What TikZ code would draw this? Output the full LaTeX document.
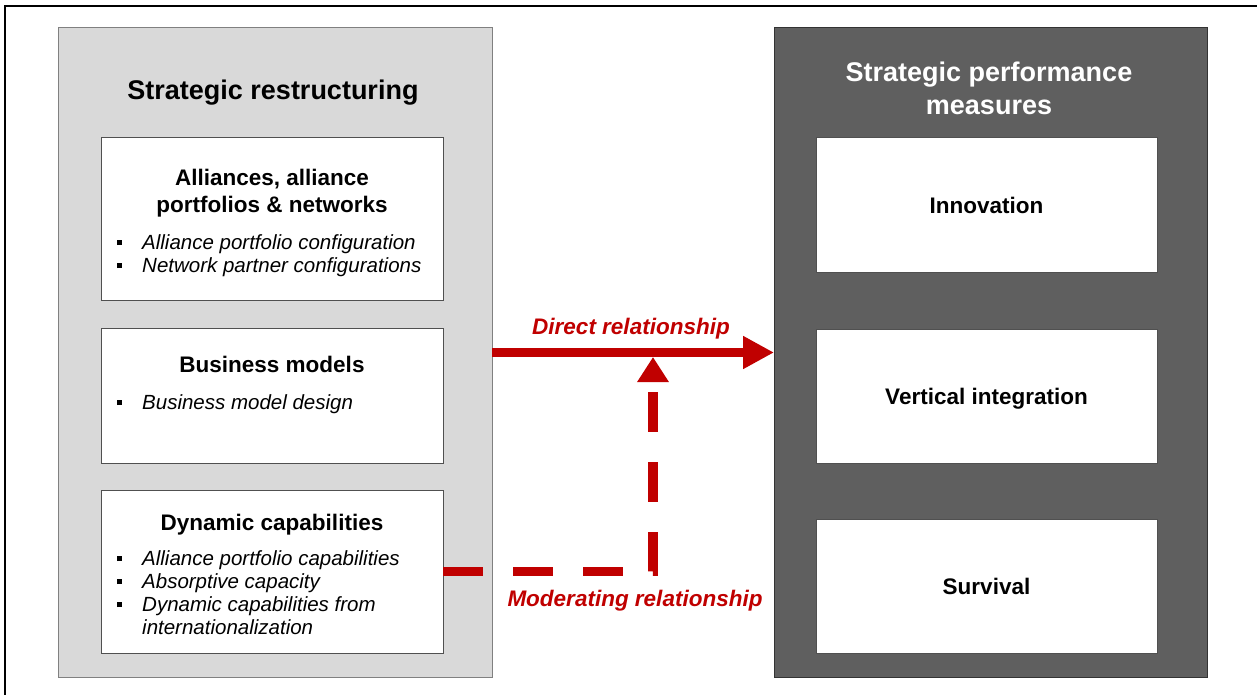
\documentclass[tikz,border=0pt]{standalone}
\usepackage{fontspec}
\setmainfont{Liberation Sans}
\usetikzlibrary{arrows.meta,positioning}

\definecolor{panellight}{HTML}{D9D9D9}
\definecolor{paneldark}{HTML}{5F5F5F}
\definecolor{boxline}{HTML}{505050}
\definecolor{relred}{HTML}{C00000}

\newcommand{\panelfont}{\fontsize{27}{33}\selectfont\bfseries}
\newcommand{\boxfont}{\fontsize{22.5}{27}\selectfont\bfseries}
\newcommand{\itemfont}{\fontsize{20.5}{23}\selectfont\itshape}
\newcommand{\relfont}{\fontsize{22.5}{27}\selectfont\bfseries\itshape}
\newcommand{\sqbullet}{\raisebox{4pt}{\rule{5pt}{5pt}}}

\tikzset{
	panel/.style={line width=1pt, inner sep=0pt, outer sep=0pt, minimum height=649pt},
	paneltitle/.style={font=\panelfont, align=center, inner sep=0pt},
	box/.style={draw=boxline, fill=white, line width=1pt, inner sep=0pt, outer sep=0pt},
	leftbox/.style={box, minimum width=342pt},
	measure/.style={box, minimum width=341pt, minimum height=134pt, font=\boxfont, text height=16pt, text depth=0pt},
	boxtitle/.style={font=\boxfont, align=center, inner sep=0pt},
	items/.style={anchor=base west, inner sep=0pt, font=\itemfont},
	rellabel/.style={font=\relfont, text=relred, inner sep=0pt, anchor=base}
}

\begin{document}
\begin{tikzpicture}[x=1pt, y=-1pt]
	\useasboundingbox (0,0) rectangle (1257,695);
	\draw[line width=1.5pt] (1257,6) -- (5,6) -- (5,695);
	
	% the two panels
	\node[panel, fill=panellight, draw=gray, minimum width=434pt] (restr) at (275,352.5) {};
	\node[panel, fill=paneldark, draw=darkgray!80!black, minimum width=433pt] (perf) at (990.5,352.5) {};
	\node[paneltitle, anchor=base] (restrtitle) at (273,100) {Strategic restructuring};
	\node[paneltitle, text=white, anchor=north] (perftitle) at (989,62) {Strategic performance\\measures};
	
	% left boxes
	\node[leftbox, minimum height=162pt] (ally) at (272,219) {};
	\node[leftbox, minimum height=135pt] (bizm) at (272,395.5) {};
	\node[leftbox, minimum height=163pt] (dyna) at (272,571.5) {};
	
	\node[boxtitle, below=31pt of ally.north] (allytitle) {Alliances, alliance\\portfolios \& networks};
	\node[items] (allyitems) at ([xshift=16pt, yshift=-111pt]ally.north west) {%
		\begin{tabular}[t]{@{}l@{\hspace{20pt}}l@{}}
			\sqbullet & Alliance portfolio configuration\\
			\sqbullet & Network partner configurations
		\end{tabular}};
	
	\node[boxtitle, below=28pt of bizm.north] (bizmtitle) {Business models};
	\node[items] (bizmitems) at ([xshift=16pt, yshift=-81pt]bizm.north west) {%
		\begin{tabular}[t]{@{}l@{\hspace{20pt}}l@{}}
			\sqbullet & Business model design
		\end{tabular}};
	
	\node[boxtitle, below=24pt of dyna.north] (dynatitle) {Dynamic capabilities};
	\node[items] (dynaitems) at ([xshift=16pt, yshift=-75pt]dyna.north west) {%
		\begin{tabular}[t]{@{}l@{\hspace{20pt}}l@{}}
			\sqbullet & Alliance portfolio capabilities\\
			\sqbullet & Absorptive capacity\\
			\sqbullet & Dynamic capabilities from\\
			& internationalization
		\end{tabular}};
	
	% right boxes
	\node[measure] (innov) at (986.5,205) {Innovation};
	\node[measure] (vert) at (986.5,396) {Vertical integration};
	\node[measure] (surv) at (986.5,586) {Survival};
	
	% relationships
	\draw[relred, line width=9.5pt, -{Triangle[length=31pt, width=31pt]}] (restr.east) -- (perf.west);
	\node[rellabel] (directlabel) at (631,334) {Direct relationship};
	
	\coordinate (modtip) at (653,357);
	\draw[relred, line width=9.5pt, dash pattern=on 40pt off 30pt, -{Triangle[length=25pt, width=30pt]}] (dyna.east) -| (modtip);
	\node[rellabel] (modlabel) at (635,606) {Moderating relationship};
\end{tikzpicture}
\end{document}
